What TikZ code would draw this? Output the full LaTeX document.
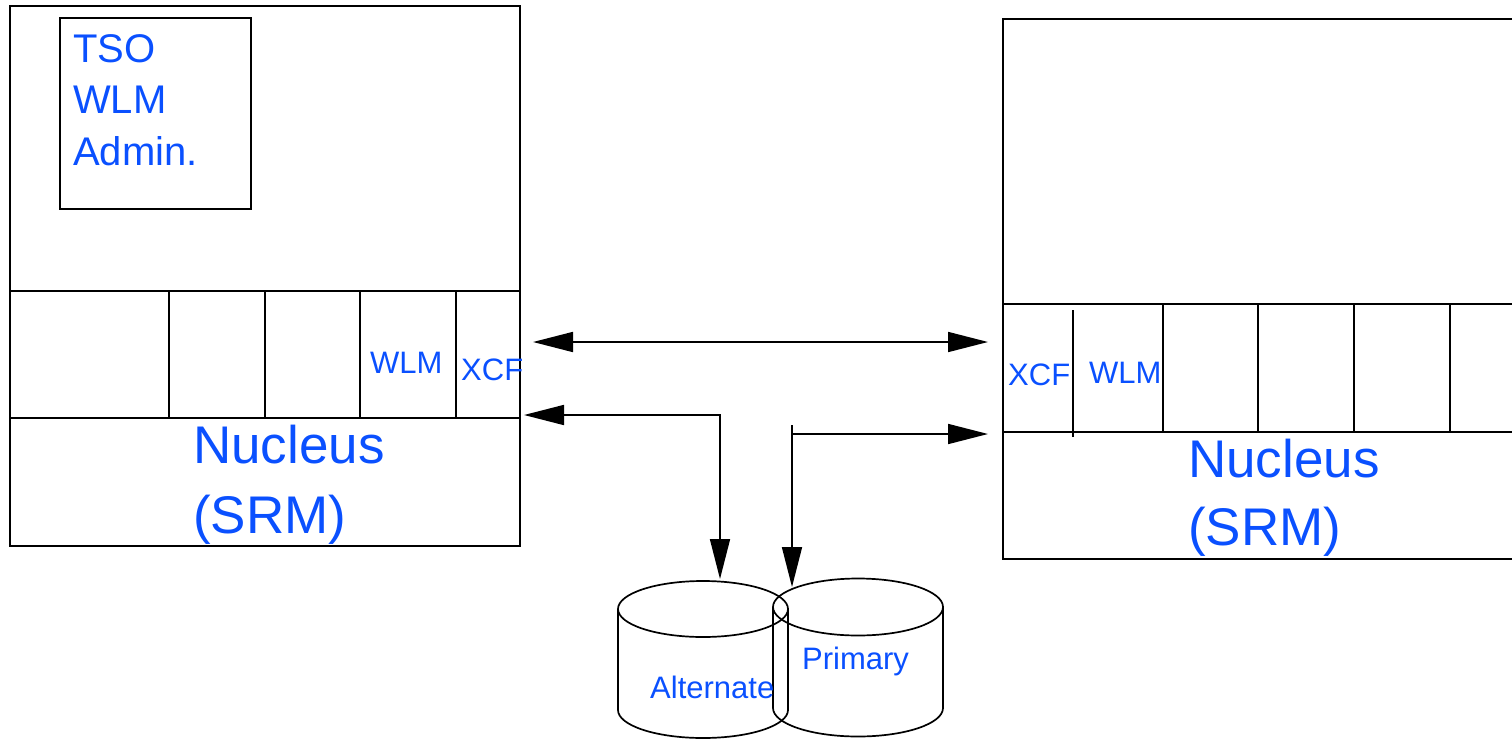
\documentclass[tikz,border=0pt]{standalone}
\usepackage{fontspec}
\setmainfont{Liberation Sans}
\usetikzlibrary{arrows.meta}
\definecolor{tblue}{RGB}{10,80,255}
\begin{document}
\begin{tikzpicture}[x=1pt,y=-1pt,
  box/.style={draw, line width=1.7pt, inner sep=0pt, outer sep=0pt, anchor=north west},
  sepline/.style={line width=1.7pt},
  lbl/.style={text=tblue, inner sep=0pt, anchor=base west},
  big/.style={lbl, font=\fontsize{53}{62}\selectfont},
  mid/.style={lbl, font=\fontsize{40}{48}\selectfont},
  small/.style={lbl, font=\fontsize{31}{36}\selectfont},
  tip/.tip={Triangle[length=40pt,width=20pt]},
  conn/.style={line width=1.7pt, tip-tip},
  oneway/.style={line width=1.7pt, -tip},
  disk/.style={line width=1.7pt}]
\useasboundingbox (0,0) rectangle (1512,739);
\clip (0,0) rectangle (1512,739);
% left system
\node[box, minimum width=510pt, minimum height=540pt] (sysA) at (10,6) {};
\node[box, minimum width=191pt, minimum height=191pt] (tsoBox) at (60,18) {};
\draw[sepline] (10,291) -- (520,291);
\draw[sepline] (10,418) -- (520,418);
\foreach \x in {169,265,360,456} \draw[sepline] (\x,291) -- (\x,418);
\node[mid] (t1) at (73,62) {TSO};
\node[mid] (t2) at (73,113) {WLM};
\node[mid] (t3) at (73,165) {Admin.};
\node[small] (wlmA) at (370,373) {WLM};
\node[small] (xcfA) at (461,380) {XCF};
\node[big] (nucA) at (193,463) {Nucleus};
\node[big] (srmA) at (193,533) {(SRM)};
% right system
\node[box, minimum width=537pt, minimum height=540pt] (sysB) at (1003,19) {};
\draw[sepline] (1003,304) -- (1540,304);
\draw[sepline] (1003,432) -- (1540,432);
\draw[sepline] (1073,310) -- (1073,437);
\foreach \x in {1163,1258,1354,1450} \draw[sepline] (\x,304) -- (\x,432);
\node[small] (xcfB) at (1008,385) {XCF};
\node[small] (wlmB) at (1089,383) {WLM};
\node[big] (nucB) at (1188,477) {Nucleus};
\node[big] (srmB) at (1188,545) {(SRM)};
% disks
\draw[disk] (703,609) ellipse [x radius=85pt, y radius=28pt];
\draw[disk] (618,609) -- (618,710) arc[start angle=180, end angle=360, x radius=85pt, y radius=28pt] -- (788,609);
\draw[disk] (858,607) ellipse [x radius=85pt, y radius=28.5pt];
\draw[disk] (773,607) -- (773,708) arc[start angle=180, end angle=360, x radius=85pt, y radius=28.5pt] -- (943,607);
\node[small] (alt) at (650,698) {Alternate};
\node[small] (prim) at (802,669) {Primary};
% connectors
\coordinate (pA1) at (533,342);
\coordinate (pB1) at (988,342);
\draw[conn] (pA1) -- (pB1);
\coordinate (pA2) at (524,415);
\coordinate (bend2) at (720,415);
\coordinate (altTop) at (720,579);
\draw[conn] (pA2) -- (bend2) -- (altTop);
\coordinate (tick) at (792,425);
\coordinate (primTop) at (792,587);
\coordinate (jn) at (792,434);
\coordinate (pB3) at (988,434);
\draw[oneway] (tick) -- (primTop);
\draw[oneway] (jn) -- (pB3);
\end{tikzpicture}
\end{document}
